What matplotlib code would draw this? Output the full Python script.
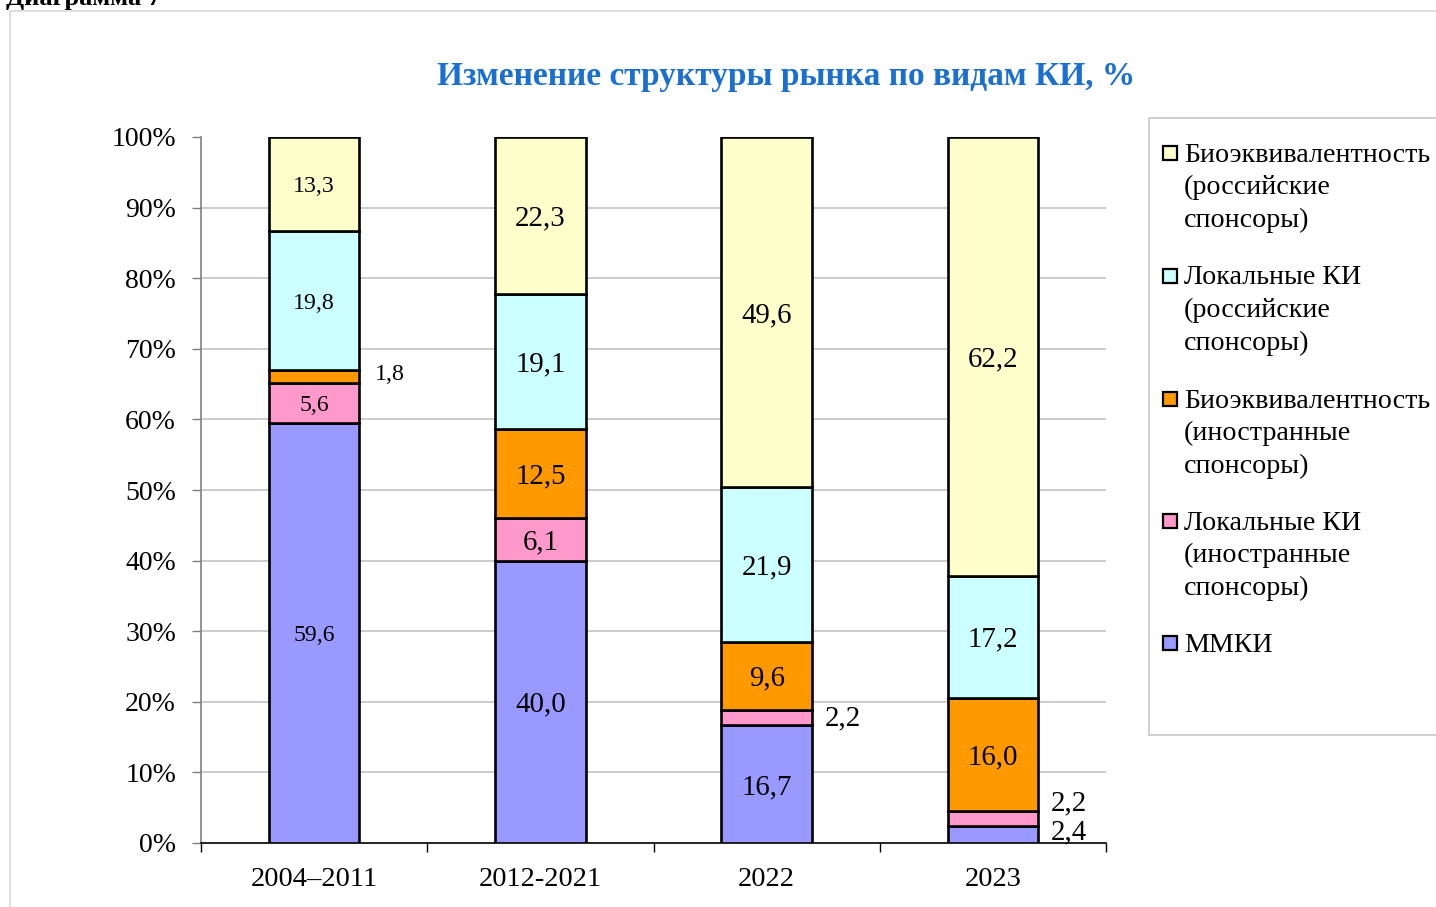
import matplotlib
matplotlib.use("Agg")
import matplotlib.pyplot as plt
from matplotlib.patches import Rectangle
import numpy as np

plt.rcParams['font.family'] = ['Liberation Serif', 'DejaVu Serif']

categories = ["2004–2011", "2012-2021", "2022", "2023"]
series_names = [
    "ММКИ",
    "Локальные КИ\n(иностранные\nспонсоры)",
    "Биоэквивалентность\n(иностранные\nспонсоры)",
    "Локальные КИ\n(российские\nспонсоры)",
    "Биоэквивалентность\n(российские\nспонсоры)",
]
mmki = [59.6, 40.0, 16.7, 2.4]
local_foreign = [5.6, 6.1, 2.2, 2.2]
be_foreign = [1.8, 12.5, 9.6, 16.0]
local_rus = [19.8, 19.1, 21.9, 17.2]
be_rus = [13.3, 22.3, 49.6, 62.2]
colors = ["#9999FF", "#FF99CC", "#FF9900", "#CCFFFF", "#FFFFCC"]
yticks = [0, 10, 20, 30, 40, 50, 60, 70, 80, 90, 100]
title = "Изменение структуры рынка по видам КИ, %"

W, H = 1436, 907
fig = plt.figure(figsize=(W / 100, H / 100), dpi=100)

def fx(px):
    return px / W

def fy(py):
    return 1 - py / H

# outer chart border
fig.patches.append(Rectangle((fx(10), -0.1), 1.2, fy(11) + 0.1, transform=fig.transFigure,
                             facecolor="none", edgecolor="#D9D9D9", lw=1.2, zorder=-5))
fig.text(fx(6), fy(5), "Диаграмма 7", fontsize=19, fontweight="bold", ha="left", va="baseline")

ax = fig.add_axes([fx(201), fy(843), fx(1106) - fx(201), fy(137) - fy(843)])
ax.set_facecolor("none")

data = np.array([mmki, local_foreign, be_foreign, local_rus, be_rus])
totals = data.sum(axis=0)
pct = data / totals * 100
x = np.arange(len(categories))
width = 0.40
bottom = np.zeros(len(categories))
for i in range(len(series_names)):
    ax.bar(x, pct[i], width, bottom=bottom, color=colors[i], edgecolor="black", linewidth=1.9, zorder=3)
    for j in range(len(categories)):
        val = data[i, j]
        center = bottom[j] + pct[i, j] / 2
        lab = f"{val:.1f}".replace(".", ",")
        fs = 17.2 if j == 0 else 20.8
        if val < 3:
            # small segments labelled to the right
            dy = 2
            if j == 3:
                dy = 18 if i == 1 else 5
            elif j == 0:
                dy = 5
            ax.annotate(lab, (x[j] + 0.335, center), xytext=(0, dy), textcoords="offset pixels",
                        ha="center", va="center_baseline", fontsize=fs, zorder=4)
        else:
            ax.text(x[j], center, lab, ha="center", va="center_baseline", fontsize=fs, zorder=4)
    bottom += pct[i]

ax.set_xlim(-0.5, len(categories) - 0.5)
ax.set_ylim(0, 100)
ax.set_yticks(yticks)
ax.set_yticklabels([f"{t}%" for t in yticks], fontsize=20)
ax.set_xticks(x)
ax.set_xticklabels(categories, fontsize=20.5)
ax.set_xticks(np.arange(-0.5, len(categories), 1), minor=True)
ax.tick_params(axis="x", which="major", length=0, pad=17.5)
ax.tick_params(axis="x", which="minor", length=6.5, width=1, color="black", direction="out")
ax.tick_params(axis="y", length=6.5, width=1, color="#808080", pad=11.5, direction="out")
ax.spines["top"].set_visible(False)
ax.spines["right"].set_visible(False)
ax.spines["left"].set_color("#808080")
ax.spines["left"].set_linewidth(1.2)
ax.spines["bottom"].set_color("black")
ax.spines["bottom"].set_linewidth(1.2)
for t in yticks[1:-1]:
    ax.axhline(t, color="#BFBFBF", lw=1.1, zorder=1)

fig.text(fx(786), fy(77), title, fontsize=24, fontweight="bold", color="#1A6FD1",
         ha="center", va="center")

# legend
fig.patches.append(Rectangle((fx(1149), fy(735)), 0.5, fy(118) - fy(735), transform=fig.transFigure,
                             facecolor="white", edgecolor="#C8C8C8", lw=1.2, zorder=1))
first_lines = [153, 276, 399, 521, 643]
for k, i in enumerate(range(len(series_names) - 1, -1, -1)):
    ytop = first_lines[k]
    fig.patches.append(Rectangle((fx(1163), fy(ytop + 7)), fx(14), fy(ytop - 7) - fy(ytop + 7),
                                 transform=fig.transFigure, facecolor=colors[i],
                                 edgecolor="black", lw=1.6, zorder=2))
    lines = series_names[i].split("\n")
    for li, line in enumerate(lines):
        fig.text(fx(1184), fy(ytop + 2 + 32.5 * li), line, fontsize=20.2, ha="left", va="center", zorder=3)

fig.savefig("out.png", dpi=100)
